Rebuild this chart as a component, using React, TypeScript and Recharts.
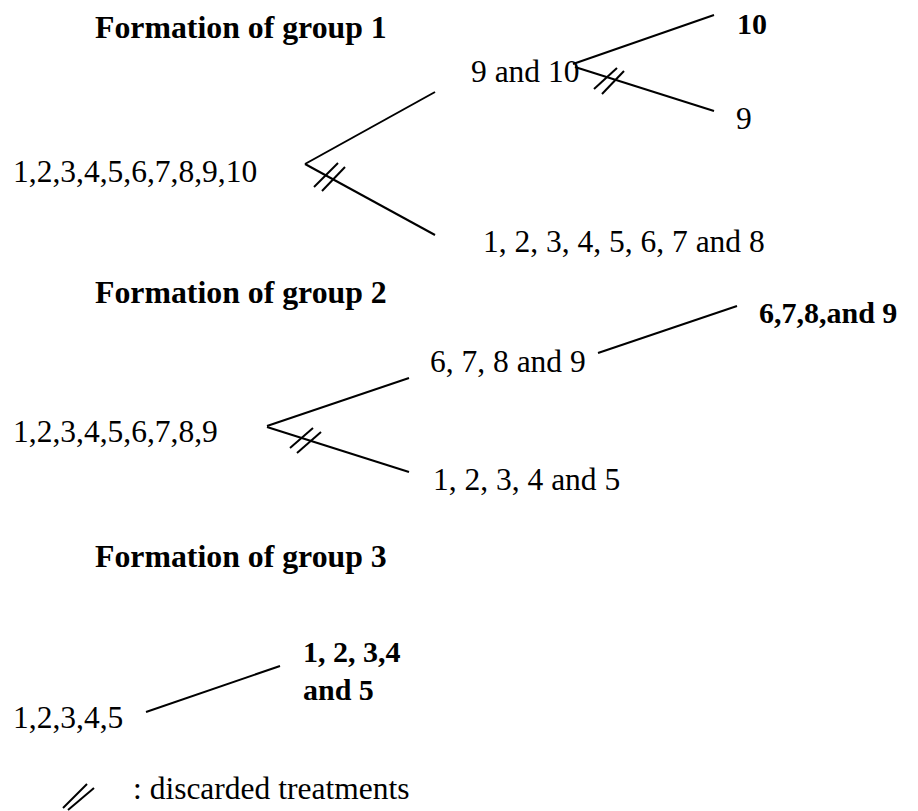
import React from "react";
import { ComposedChart, XAxis, YAxis, ReferenceLine, Scatter } from "recharts";

// Layout space of the diagram (x to the right, y downward)
const X_DOMAIN: [number, number] = [0, 918];
const Y_DOMAIN: [number, number] = [0, 811];

// Node labels: text, left x, baseline y, kind
const labelTexts = [
  "Formation of group 1",
  "1,2,3,4,5,6,7,8,9,10",
  "9 and 10",
  "10",
  "9",
  "1, 2, 3, 4, 5, 6, 7 and 8",
  "Formation of group 2",
  "1,2,3,4,5,6,7,8,9",
  "6, 7, 8 and 9",
  "6,7,8,and 9",
  "1, 2, 3, 4 and 5",
  "Formation of group 3",
  "1,2,3,4,5",
  "1, 2, 3,4",
  "and 5",
  ": discarded treatments",
];
const labelX = [95, 13, 471, 737, 736, 483, 95, 13, 430, 759, 433, 95, 13, 303, 303, 133];
const labelY = [38, 182, 82, 34, 129, 252, 303, 442, 372, 323, 490, 567, 728, 662, 700, 799];
// t = title, r = selected group (bold), n = plain node
const labelKind = ["t", "n", "n", "r", "n", "n", "t", "n", "n", "r", "n", "t", "n", "r", "r", "n"];

// Tree branches: [x1, y1, x2, y2]
const branches: number[][] = [
  [305, 164, 435, 92],
  [305, 164, 435, 235],
  [573, 64, 714, 15],
  [575, 67, 714, 111],
  [267, 426, 409, 378],
  [267, 427, 409, 472],
  [598, 353, 737, 306],
  [146, 712, 280, 666],
];

// Discard marks "//": [x1, y1, x2, y2]
const discardMarks: number[][] = [
  [314, 187, 338, 163],
  [322, 191, 345, 167],
  [594, 89, 617, 68],
  [602, 94, 624, 71],
  [290, 448, 313, 428],
  [297, 453, 321, 432],
  [63, 808, 87, 784],
  [68, 810, 94, 788],
];

const labelData = labelTexts.map((t, i) => ({
  x: labelX[i],
  y: labelY[i],
  label: t,
  kind: labelKind[i],
}));

const FONT = "'Liberation Serif', 'Times New Roman', serif";
const KIND_STYLE: Record<string, { size: number; weight: number }> = {
  t: { size: 31.8, weight: 700 },
  r: { size: 30, weight: 700 },
  n: { size: 31.5, weight: 400 },
};

const LabelShape = (props: any) => {
  const { cx, cy, payload } = props;
  if (cx == null || cy == null || !payload) return null;
  const st = KIND_STYLE[payload.kind];
  return (
    <text
      x={cx}
      y={cy}
      textAnchor="start"
      fontFamily={FONT}
      fontSize={st.size}
      fontWeight={st.weight}
      fill="#000"
    >
      {payload.label}
    </text>
  );
};

export default function App() {
  return (
    <div style={{ position: "fixed", left: 0, top: 0, width: 918, height: 811, background: "#fff" }}>
      <ComposedChart width={918} height={811} margin={{ top: 0, right: 0, bottom: 0, left: 0 }} data={labelData}>
        <XAxis type="number" dataKey="x" domain={X_DOMAIN} hide allowDataOverflow />
        <YAxis type="number" dataKey="y" domain={Y_DOMAIN} reversed hide allowDataOverflow />
        {branches.map((b, i) => (
          <ReferenceLine
            key={"b" + i}
            segment={[{ x: b[0], y: b[1] }, { x: b[2], y: b[3] }]}
            stroke="#000"
            strokeWidth={2}
            ifOverflow="visible"
          />
        ))}
        {discardMarks.map((b, i) => (
          <ReferenceLine
            key={"d" + i}
            segment={[{ x: b[0], y: b[1] }, { x: b[2], y: b[3] }]}
            stroke="#000"
            strokeWidth={2}
            ifOverflow="visible"
          />
        ))}
        <Scatter data={labelData} dataKey="y" shape={LabelShape} isAnimationActive={false} />
      </ComposedChart>
    </div>
  );
}
